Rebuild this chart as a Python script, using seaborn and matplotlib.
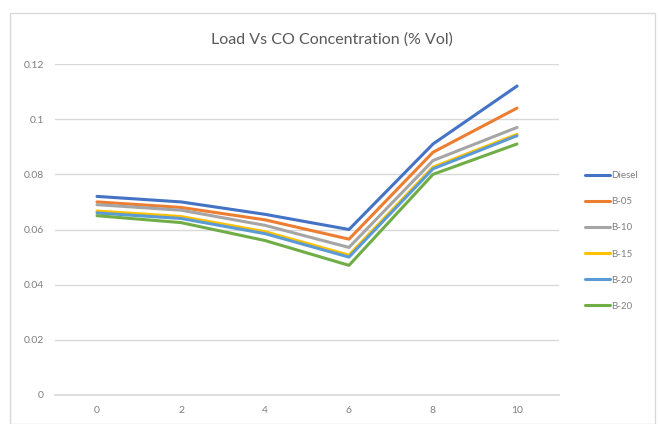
import numpy as np
import pandas as pd
import matplotlib
matplotlib.use("Agg")
import matplotlib.pyplot as plt
import seaborn as sns
from matplotlib.patches import Rectangle
from matplotlib.lines import Line2D

load = [0, 2, 4, 6, 8, 10]
series_names = ["Diesel", "B-05", "B-10", "B-15", "B-20", "B-20 "]
legend_labels = ["Diesel", "B-05", "B-10", "B-15", "B-20", "B-20"]
diesel = [0.072, 0.070, 0.0655, 0.060, 0.091, 0.112]
b05 = [0.070, 0.068, 0.0635, 0.0565, 0.088, 0.104]
b10 = [0.069, 0.067, 0.0615, 0.0535, 0.085, 0.097]
b15 = [0.0667, 0.0647, 0.0592, 0.0507, 0.0826, 0.0945]
b20 = [0.066, 0.064, 0.0585, 0.050, 0.082, 0.094]
b20b = [0.065, 0.0625, 0.056, 0.047, 0.080, 0.091]
yticks = [0, 0.02, 0.04, 0.06, 0.08, 0.1, 0.12]
ytick_labels = ["0", "0.02", "0.04", "0.06", "0.08", "0.1", "0.12"]
title = "Load Vs CO Concentration (% Vol)"
colors = ["#4472C4", "#ED7D31", "#A5A5A5", "#FFC000", "#5B9BD5", "#70AD47"]

rows = []
for name, vals in zip(series_names, [diesel, b05, b10, b15, b20, b20b]):
    for x, v in zip(load, vals):
        rows.append({"Load": x, "CO": v, "Series": name})
df = pd.DataFrame(rows)

sns.set_theme(style="white")
plt.rcParams["font.family"] = ["Lato", "DejaVu Sans"]

fig = plt.figure(figsize=(6.59, 4.24), dpi=100)
fig.patches.append(Rectangle((10 / 659, 0.0), 645 / 659, (424 - 13) / 424,
                             transform=fig.transFigure, fill=False,
                             edgecolor="#d9d9d9", linewidth=1.0))
ax = fig.add_axes([55 / 659, (424 - 395) / 424, 504 / 659, (395 - 64) / 424])

sns.lineplot(data=df, x="Load", y="CO", hue="Series", hue_order=series_names,
             palette=colors, linewidth=2.2, ax=ax, legend=False, sort=False)

ax.set_xlim(-1, 11)
ax.set_ylim(0, 0.12)
ax.set_xticks(load)
ax.set_xticklabels([str(v) for v in load])
ax.set_yticks(yticks)
ax.set_yticklabels(ytick_labels)
ax.grid(axis="y", color="#d9d9d9", linewidth=1.0)
ax.set_axisbelow(True)
for s in ["top", "right", "left"]:
    ax.spines[s].set_visible(False)
ax.spines["bottom"].set_color("#d9d9d9")
ax.tick_params(axis="both", length=0, labelsize=7.5, colors="#7f7f7f", pad=8)
ax.set_xlabel("")
ax.set_ylabel("")

fig.text(332 / 659, 1 - 40 / 424, title, ha="center", va="center",
         fontsize=11.5, color="#595959")

handles = [Line2D([0], [0], color=c, linewidth=2.2) for c in colors]
leg = fig.legend(handles, legend_labels, loc="center left",
                 bbox_to_anchor=(576 / 659, 1 - 241 / 424), frameon=False,
                 fontsize=7, handlelength=2.6, handletextpad=0.15,
                 labelspacing=1.75, labelcolor="#7f7f7f")

fig.savefig("out.png", dpi=100)
